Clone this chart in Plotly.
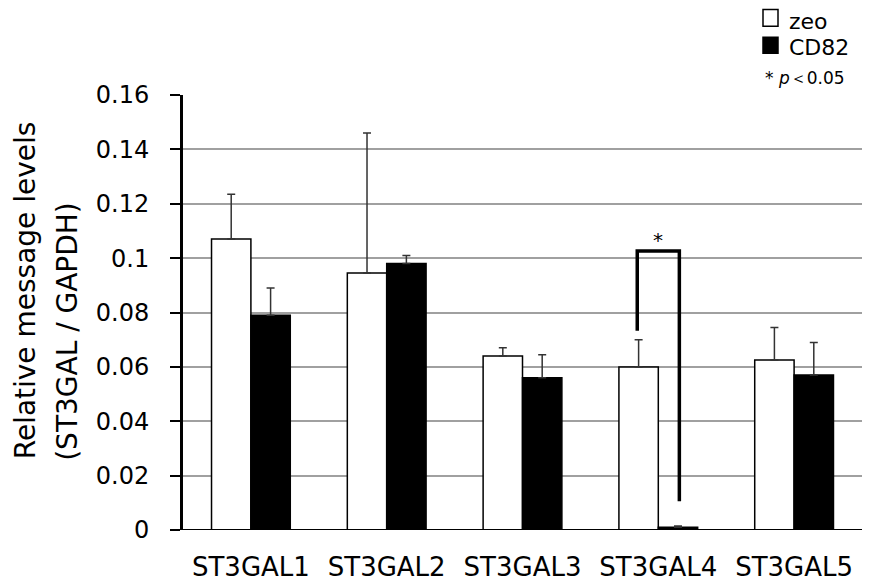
import plotly.graph_objects as go

categories = ["ST3GAL1", "ST3GAL2", "ST3GAL3", "ST3GAL4", "ST3GAL5"]
zeo_values = [0.107, 0.0945, 0.064, 0.060, 0.0625]
zeo_err = [0.0165, 0.0515, 0.003, 0.010, 0.012]
cd82_values = [0.079, 0.098, 0.056, 0.001, 0.057]
cd82_err = [0.010, 0.003, 0.0085, 0.0005, 0.012]
y_ticks = [0, 0.02, 0.04, 0.06, 0.08, 0.1, 0.12, 0.14, 0.16]
y_tick_labels = ["0", "0.02", "0.04", "0.06", "0.08", "0.1", "0.12", "0.14", "0.16"]
y_title_lines = ["Relative message levels", "(ST3GAL / GAPDH)"]

W, H = 875, 586
OFF = 8  # page body margin offset
L, R, T, B = 183 - OFF, 13 + OFF, 95 - OFF, 54 + OFF
pw, ph = W - L - R, H - T - B

def px(x):
    return (x - OFF - L) / pw

def py(y):
    return (H - B - (y - OFF)) / ph

FONT = "DejaVu Sans, Arial, sans-serif"

fig = go.Figure()
fig.add_trace(go.Bar(
    x=categories, y=zeo_values, name="zeo",
    marker=dict(color="white", line=dict(color="black", width=1.5)),
    error_y=dict(type="data", array=zeo_err, arrayminus=[0] * 5, symmetric=False,
                 color="#333", thickness=1.5, width=4),
    showlegend=False,
))
fig.add_trace(go.Bar(
    x=categories, y=cd82_values, name="CD82",
    marker=dict(color="black", line=dict(color="black", width=1.5)),
    error_y=dict(type="data", array=cd82_err, arrayminus=[0] * 5, symmetric=False,
                 color="#333", thickness=1.5, width=4),
    showlegend=False,
))

# significance bracket for ST3GAL4 (category index 3)
sig_x0, sig_x1 = 3 - 0.155, 3 + 0.155
sig_top, sig_left_low, sig_right_low = 0.1026, 0.0733, 0.0106
fig.add_shape(type="path",
              path=f"M {sig_x0},{sig_left_low} L {sig_x0},{sig_top} L {sig_x1},{sig_top} L {sig_x1},{sig_right_low}",
              xref="x", yref="y", line=dict(color="black", width=3.5))
fig.add_annotation(x=3, y=sig_top, xref="x", yref="y", text="*", showarrow=False,
                   yshift=11, font=dict(size=20, color="black", family=FONT))

# x axis baseline extending left of y axis
fig.add_shape(type="line", xref="paper", yref="y", x0=px(173), x1=1, y0=0, y1=0,
              line=dict(color="black", width=2))

# y axis title, two lines aligned at the bottom
fig.add_annotation(x=px(25), y=py(463), xref="paper", yref="paper", text=y_title_lines[0],
                   textangle=-90, showarrow=False, xanchor="center", yanchor="bottom",
                   font=dict(size=28, color="black", family=FONT))
fig.add_annotation(x=px(68), y=py(465), xref="paper", yref="paper", text=y_title_lines[1],
                   textangle=-90, showarrow=False, xanchor="center", yanchor="bottom",
                   font=dict(size=28, color="black", family=FONT))

# legend drawn manually
fig.add_shape(type="rect", xref="paper", yref="paper", x0=px(763), x1=px(778), y0=py(26), y1=py(9),
              line=dict(color="black", width=1.5), fillcolor="white")
fig.add_shape(type="rect", xref="paper", yref="paper", x0=px(763), x1=px(778), y0=py(53), y1=py(37),
              line=dict(color="black", width=1.5), fillcolor="black")
fig.add_annotation(x=px(788), y=py(8), xref="paper", yref="paper", text="zeo", showarrow=False,
                   xanchor="left", yanchor="top", borderpad=0,
                   font=dict(size=22, color="black", family=FONT))
fig.add_annotation(x=px(788), y=py(34), xref="paper", yref="paper", text="CD82", showarrow=False,
                   xanchor="left", yanchor="top", borderpad=0,
                   font=dict(size=22, color="black", family=FONT))
fig.add_annotation(x=px(764), y=py(78), xref="paper", yref="paper", text="* <i>p</i>＜0.05", showarrow=False,
                   xanchor="left", yanchor="middle", borderpad=0,
                   font=dict(size=17, color="black", family=FONT))

fig.update_layout(
    width=W, height=H,
    margin=dict(l=L, r=R, t=T, b=B, pad=0),
    plot_bgcolor="white", paper_bgcolor="white",
    barmode="group", bargap=0.42, bargroupgap=0,
    font=dict(family=FONT, color="black"),
    xaxis=dict(showline=False, ticks="", showgrid=False, tickfont=dict(size=26),
               range=[-0.5, 4.5], ticklabelstandoff=19),
    yaxis=dict(range=[0, 0.16], tickvals=y_ticks, ticktext=y_tick_labels,
               showgrid=True, gridcolor="#a0a0a0", gridwidth=2,
               showline=True, linecolor="black", linewidth=3,
               ticks="outside", ticklen=10, tickcolor="black", tickwidth=2,
               tickfont=dict(size=24), zeroline=False, ticklabelstandoff=16),
)

fig.write_html("out.html")
